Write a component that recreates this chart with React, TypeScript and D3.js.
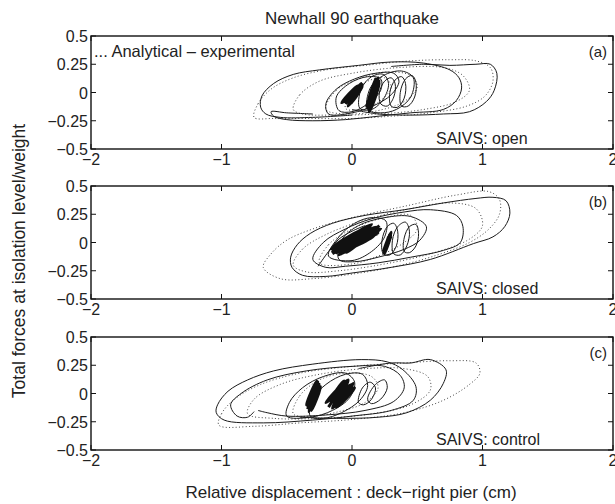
import React from "react";
import * as d3 from "d3";

type Pt = [number, number];

// ---- axis / text data ----
const X_TICKS = [-2, -1, 0, 1, 2];
const X_TICK_LABELS = ["\u22122", "\u22121", "0", "1", "2"];
const Y_TICKS = [0.5, 0.25, 0, -0.25, -0.5];
const Y_TICK_LABELS = ["0.5", "0.25", "0", "\u22120.25", "\u22120.5"];
const PANEL_TAGS = ["(a)", "(b)", "(c)"];
const PANEL_NOTES = ["SAIVS: open", "SAIVS: closed", "SAIVS: control"];
const TITLE = "Newhall 90 earthquake";
const X_LABEL = "Relative displacement : deck\u2212right pier (cm)";
const Y_LABEL = "Total forces at isolation level/weight";
const LEGEND = "... Analytical \u2013 experimental";

// ---- Panel (a) SAIVS open ----
const A_EXP_OPEN: Pt[][] = [
  [[-0.30,-0.19],[-0.50,-0.18],[-0.62,-0.17],[-0.60,-0.21],[-0.50,-0.24],[-0.30,-0.25],[-0.05,-0.24],[0.20,-0.21],[0.45,-0.18],[0.70,-0.15],[0.80,-0.07],[0.84,0.04],[0.82,0.13],[0.75,0.20],[0.55,0.26],[0.30,0.27],[0.05,0.24],[-0.25,0.20],[-0.45,0.16],[-0.60,0.08],[-0.69,-0.03],[-0.70,-0.13],[-0.66,-0.19],[-0.55,-0.22],[-0.30,-0.22],[0.0,-0.20]],
  [[0.30,0.23],[0.55,0.25],[0.75,0.24],[0.95,0.25],[1.06,0.25],[1.11,0.17],[1.09,0.02],[1.03,-0.08],[0.90,-0.17],[0.70,-0.19],[0.45,-0.20],[0.20,-0.19],[0.0,-0.15]],
];
const A_EXP_LOOPS: Pt[][] = [
  [[-0.18,-0.19],[-0.20,-0.10],[-0.12,0.03],[0.02,0.12],[0.18,0.17],[0.32,0.17],[0.36,0.10],[0.30,-0.02],[0.16,-0.12],[0.0,-0.18]],
  [[-0.10,-0.16],[-0.12,-0.04],[-0.02,0.08],[0.12,0.14],[0.22,0.12],[0.22,0.02],[0.12,-0.10],[0.0,-0.17]],
  [[0.22,-0.10],[0.21,0.0],[0.25,0.10],[0.30,0.13],[0.33,0.08],[0.32,-0.04],[0.27,-0.12]],
  [[0.30,-0.12],[0.29,0.0],[0.33,0.11],[0.38,0.14],[0.41,0.08],[0.40,-0.05],[0.35,-0.13]],
  [[0.38,-0.12],[0.37,0.0],[0.41,0.12],[0.46,0.15],[0.49,0.09],[0.48,-0.04],[0.43,-0.12]],
  [[0.12,-0.15],[0.14,0.04],[0.24,0.15],[0.38,0.19],[0.47,0.13],[0.45,-0.04],[0.34,-0.15],[0.22,-0.18]],
  [[0.06,-0.14],[0.07,0.03],[0.15,0.14],[0.24,0.16],[0.28,0.08],[0.24,-0.06],[0.15,-0.15]],
];
const A_BLOBS: Pt[][] = [
  [[-0.05,-0.10],[0.06,0.06],[-0.03,-0.12],[0.08,0.05],[-0.04,-0.08],[0.07,0.08],[-0.02,-0.11],[0.05,0.04],[-0.06,-0.07],[0.08,0.07],[-0.01,-0.10],[0.06,0.02],[-0.08,-0.09],[0.04,0.06],[-0.03,-0.06],[0.07,0.03]],
  [[0.12,-0.15],[0.19,0.12],[0.13,-0.17],[0.21,0.10],[0.11,-0.12],[0.20,0.13],[0.14,-0.16],[0.21,0.08],[0.12,-0.10],[0.18,0.12],[0.13,-0.14],[0.20,0.10],[0.15,-0.12],[0.19,0.06]],
];
const A_ANA_LOOPS: Pt[][] = [
  [[-0.75,-0.22],[-0.72,-0.10],[-0.62,0.03],[-0.45,0.13],[-0.20,0.20],[0.10,0.24],[0.45,0.28],[0.75,0.29],[0.95,0.28],[1.06,0.22],[1.08,0.10],[1.02,-0.03],[0.88,-0.12],[0.60,-0.18],[0.30,-0.21],[0.0,-0.23],[-0.35,-0.23],[-0.60,-0.23]],
  [[-0.45,-0.15],[-0.40,-0.02],[-0.25,0.10],[0.0,0.17],[0.35,0.22],[0.70,0.22],[0.85,0.15],[0.90,0.02],[0.80,-0.08],[0.55,-0.15],[0.20,-0.19],[-0.15,-0.20],[-0.38,-0.19]],
  [[-0.20,-0.15],[-0.12,0.02],[0.05,0.12],[0.25,0.18],[0.45,0.15],[0.50,0.05],[0.40,-0.08],[0.20,-0.16],[0.0,-0.19]],
  [[-0.05,-0.14],[0.0,0.0],[0.12,0.10],[0.25,0.13],[0.30,0.05],[0.22,-0.07],[0.08,-0.15]],
];

// ---- Panel (b) SAIVS closed ----
const B_EXP_OPEN: Pt[][] = [
  [[-0.26,-0.21],[-0.18,-0.08],[-0.10,0.03],[0.0,0.10],[0.10,0.15]],
];
const B_EXP_LOOPS: Pt[][] = [
  [[-0.47,-0.13],[-0.42,-0.02],[-0.32,0.08],[-0.15,0.17],[0.10,0.24],[0.40,0.29],[0.70,0.35],[0.95,0.39],[1.08,0.40],[1.18,0.37],[1.21,0.26],[1.17,0.14],[1.08,0.05],[0.93,-0.01],[0.60,-0.15],[0.30,-0.22],[0.0,-0.27],[-0.20,-0.30],[-0.38,-0.29],[-0.46,-0.22]],
  [[-0.30,-0.15],[-0.22,0.0],[-0.05,0.12],[0.15,0.21],[0.40,0.27],[0.60,0.29],[0.80,0.24],[0.85,0.14],[0.83,0.0],[0.70,-0.07],[0.45,-0.13],[0.20,-0.18],[-0.05,-0.21],[-0.20,-0.22]],
  [[-0.10,-0.15],[-0.08,0.02],[0.05,0.15],[0.25,0.22],[0.45,0.23],[0.57,0.14],[0.52,0.02],[0.40,-0.06],[0.20,-0.13],[0.02,-0.17]],
  [[-0.18,-0.12],[-0.10,0.05],[0.02,0.17],[0.15,0.22],[0.26,0.19],[0.25,0.05],[0.15,-0.08],[0.0,-0.16]],
  [[0.24,-0.10],[0.23,0.02],[0.27,0.14],[0.32,0.17],[0.35,0.10],[0.34,-0.03],[0.29,-0.11]],
  [[0.32,-0.10],[0.31,0.02],[0.35,0.14],[0.41,0.18],[0.44,0.10],[0.42,-0.03],[0.37,-0.11]],
  [[0.40,-0.08],[0.40,0.04],[0.44,0.14],[0.49,0.16],[0.51,0.08],[0.49,-0.03],[0.44,-0.09]],
];
const B_BLOBS: Pt[][] = [
  [[-0.15,-0.10],[0.18,0.14],[-0.12,-0.04],[0.20,0.10],[-0.16,-0.06],[0.15,0.16],[-0.10,-0.11],[0.22,0.12],[-0.13,-0.02],[0.17,0.06],[-0.08,-0.08],[0.12,0.15],[-0.15,-0.08],[0.20,0.08],[-0.11,-0.06],[0.16,0.12],[-0.12,-0.09],[0.14,0.10],[-0.06,-0.05],[0.19,0.13],[-0.14,-0.03],[0.10,0.12],[-0.04,-0.09],[0.21,0.15]],
  [[0.24,-0.08],[0.29,0.08],[0.25,-0.10],[0.30,0.06],[0.26,-0.06],[0.30,0.09],[0.24,-0.09],[0.28,0.05]],
];
const B_ANA_LOOPS: Pt[][] = [
  [[-0.68,-0.22],[-0.62,-0.10],[-0.50,0.02],[-0.30,0.12],[0.0,0.22],[0.40,0.32],[0.80,0.42],[1.05,0.45],[1.13,0.38],[1.13,0.25],[1.05,0.12],[0.90,0.0],[0.60,-0.13],[0.30,-0.22],[0.0,-0.28],[-0.30,-0.32],[-0.55,-0.32]],
  [[-0.45,-0.20],[-0.38,-0.06],[-0.20,0.07],[0.10,0.20],[0.45,0.30],[0.75,0.35],[0.95,0.30],[1.0,0.15],[0.90,0.03],[0.60,-0.10],[0.25,-0.19],[-0.10,-0.25],[-0.35,-0.26]],
  [[-0.25,-0.18],[-0.18,-0.02],[0.0,0.12],[0.25,0.22],[0.45,0.24],[0.50,0.12],[0.40,0.0],[0.20,-0.12],[0.0,-0.19]],
];

// ---- Panel (c) SAIVS control ----
const C_EXP_OPEN: Pt[][] = [
  [[0.05,0.22],[0.30,0.27],[0.45,0.27],[0.60,0.30],[0.72,0.21],[0.70,0.09],[0.60,-0.06],[0.42,-0.17],[0.20,-0.21],[-0.10,-0.22],[-0.40,-0.21]],
  [[-0.75,-0.16],[-0.80,-0.21],[-0.88,-0.20],[-0.93,-0.10],[-0.85,0.0],[-0.65,0.12],[-0.35,0.20],[0.0,0.24],[0.25,0.24],[0.37,0.16],[0.40,0.05],[0.32,-0.07],[0.10,-0.15],[-0.20,-0.19],[-0.50,-0.20],[-0.65,-0.17],[-0.72,-0.15]],
];
const C_EXP_LOOPS: Pt[][] = [
  [[-1.03,-0.10],[-0.95,0.02],[-0.80,0.12],[-0.60,0.20],[-0.30,0.26],[0.07,0.30],[0.27,0.28],[0.39,0.21],[0.49,0.06],[0.47,-0.06],[0.30,-0.15],[0.0,-0.20],[-0.30,-0.235],[-0.68,-0.26],[-0.98,-0.235],[-1.04,-0.17]],
  [[-0.50,-0.20],[-0.48,-0.08],[-0.38,0.05],[-0.22,0.15],[-0.05,0.18],[0.02,0.10],[-0.02,-0.04],[-0.15,-0.15],[-0.32,-0.21]],
  [[-0.32,-0.20],[-0.30,-0.05],[-0.20,0.08],[-0.05,0.17],[0.08,0.17],[0.12,0.07],[0.06,-0.06],[-0.08,-0.17],[-0.22,-0.22]],
  [[0.05,-0.08],[0.08,0.05],[0.14,0.10],[0.18,0.05],[0.15,-0.05],[0.09,-0.10]],
  [[0.12,-0.05],[0.18,0.08],[0.25,0.12],[0.27,0.05],[0.22,-0.05],[0.15,-0.09]],
];
const C_BLOBS: Pt[][] = [
  [[-0.34,-0.14],[-0.26,0.10],[-0.33,-0.16],[-0.25,0.08],[-0.35,-0.10],[-0.27,0.11],[-0.31,-0.15],[-0.24,0.06],[-0.34,-0.12],[-0.27,0.09],[-0.32,-0.13],[-0.26,0.07]],
  [[-0.18,-0.12],[-0.05,0.10],[-0.15,-0.13],[0.0,0.08],[-0.20,-0.08],[-0.03,0.12],[-0.12,-0.12],[0.02,0.05],[-0.16,-0.06],[-0.06,0.11],[-0.10,-0.10],[0.01,0.09],[-0.14,-0.09],[-0.02,0.07]],
];
const C_ANA_LOOPS: Pt[][] = [
  [[-1.02,-0.28],[-1.0,-0.18],[-0.90,-0.05],[-0.70,0.08],[-0.40,0.18],[0.0,0.24],[0.40,0.27],[0.75,0.29],[0.95,0.27],[0.98,0.18],[0.90,0.08],[0.70,-0.06],[0.40,-0.17],[0.0,-0.23],[-0.40,-0.26],[-0.75,-0.29]],
  [[-0.80,-0.18],[-0.75,-0.05],[-0.55,0.08],[-0.25,0.17],[0.10,0.22],[0.40,0.22],[0.58,0.15],[0.60,0.03],[0.45,-0.10],[0.15,-0.18],[-0.25,-0.22],[-0.60,-0.22]],
  [[-0.45,-0.18],[-0.40,-0.02],[-0.25,0.12],[-0.05,0.18],[0.15,0.15],[0.20,0.05],[0.10,-0.08],[-0.10,-0.16],[-0.30,-0.20]],
];

const PANELS = [
  { open: A_EXP_OPEN, loops: A_EXP_LOOPS, blobs: A_BLOBS, ana: A_ANA_LOOPS },
  { open: B_EXP_OPEN, loops: B_EXP_LOOPS, blobs: B_BLOBS, ana: B_ANA_LOOPS },
  { open: C_EXP_OPEN, loops: C_EXP_LOOPS, blobs: C_BLOBS, ana: C_ANA_LOOPS },
];

const W = 615;
const H = 504;
const LEFT = 91;
const RIGHT = 613;
const TOPS = [36, 186, 337];
const PH = 113;
const FONT = "'Liberation Sans', Arial, Helvetica, sans-serif";
const FS = 16;
const FL = 17;

export default function App() {
  const x = d3.scaleLinear().domain([-2, 2]).range([LEFT, RIGHT]);
  const openLine = (s: d3.ScaleLinear<number, number>) =>
    d3.line<Pt>().x((d) => x(d[0])).y((d) => s(d[1])).curve(d3.curveCatmullRom.alpha(0.5));
  const closedLine = (s: d3.ScaleLinear<number, number>) =>
    d3.line<Pt>().x((d) => x(d[0])).y((d) => s(d[1])).curve(d3.curveCatmullRomClosed.alpha(0.5));

  return (
    <svg width={W} height={H} style={{ position: "absolute", left: 0, top: 0, background: "#fff" }} fontFamily={FONT}>
      <rect x={0} y={0} width={W} height={H} fill="#fff" />
      <text x={352} y={24} textAnchor="middle" fontSize={FL} fill="#222">{TITLE}</text>
      <text x={351} y={498} textAnchor="middle" fontSize={FL} fill="#222">{X_LABEL}</text>
      <text transform={`translate(25,261) rotate(-90)`} textAnchor="middle" fontSize={FL + 0.5} fill="#222">{Y_LABEL}</text>
      {PANELS.map((p, i) => {
        const top = TOPS[i];
        const y = d3.scaleLinear().domain([-0.5, 0.5]).range([top + PH, top]);
        const ol = openLine(y);
        const cl = closedLine(y);
        const clipId = `clip${i}`;
        return (
          <g key={i}>
            <clipPath id={clipId}>
              <rect x={LEFT} y={top} width={RIGHT - LEFT} height={PH} />
            </clipPath>
            <g clipPath={`url(#${clipId})`}>
              {p.ana.map((l, j) => (
                <path key={"a" + j} d={cl(l) || ""} fill="none" stroke="#444" strokeWidth={1} strokeDasharray="1,2.3" />
              ))}
              {p.loops.map((l, j) => (
                <path key={"l" + j} d={cl(l) || ""} fill="none" stroke="#1a1a1a" strokeWidth={1} />
              ))}
              {p.open.map((l, j) => (
                <path key={"o" + j} d={ol(l) || ""} fill="none" stroke="#1a1a1a" strokeWidth={1} />
              ))}
              {p.blobs.map((l, j) => (
                <path key={"b" + j} d={ol(l) || ""} fill="none" stroke="#111" strokeWidth={3} strokeLinejoin="round" />
              ))}
            </g>
            <rect x={LEFT} y={top} width={RIGHT - LEFT} height={PH} fill="none" stroke="#111" strokeWidth={1.4} />
            {X_TICKS.map((t, k) => (
              <g key={"xt" + k}>
                <line x1={x(t)} x2={x(t)} y1={top + PH} y2={top + PH - 5} stroke="#111" />
                <line x1={x(t)} x2={x(t)} y1={top} y2={top + 5} stroke="#111" />
                <text x={x(t)} y={top + PH + 16} textAnchor="middle" fontSize={FS} fill="#222">{X_TICK_LABELS[k]}</text>
              </g>
            ))}
            {Y_TICKS.map((t, k) => (
              <g key={"yt" + k}>
                <line x1={LEFT} x2={LEFT + 5} y1={y(t)} y2={y(t)} stroke="#111" />
                <line x1={RIGHT} x2={RIGHT - 5} y1={y(t)} y2={y(t)} stroke="#111" />
                <text x={LEFT - 3} y={y(t) + 6} textAnchor="end" fontSize={FS} fill="#222">{Y_TICK_LABELS[k]}</text>
              </g>
            ))}
            <text x={RIGHT - 6} y={top + 21} textAnchor="end" fontSize={FS - 1} fill="#222">{PANEL_TAGS[i]}</text>
            <text x={436} y={top + PH - 5} fontSize={FS} fill="#222">{PANEL_NOTES[i]}</text>
            {i === 0 && (
              <text x={94} y={top + 21} fontSize={FS + 0.5} fill="#222">{LEGEND}</text>
            )}
          </g>
        );
      })}
    </svg>
  );
}
